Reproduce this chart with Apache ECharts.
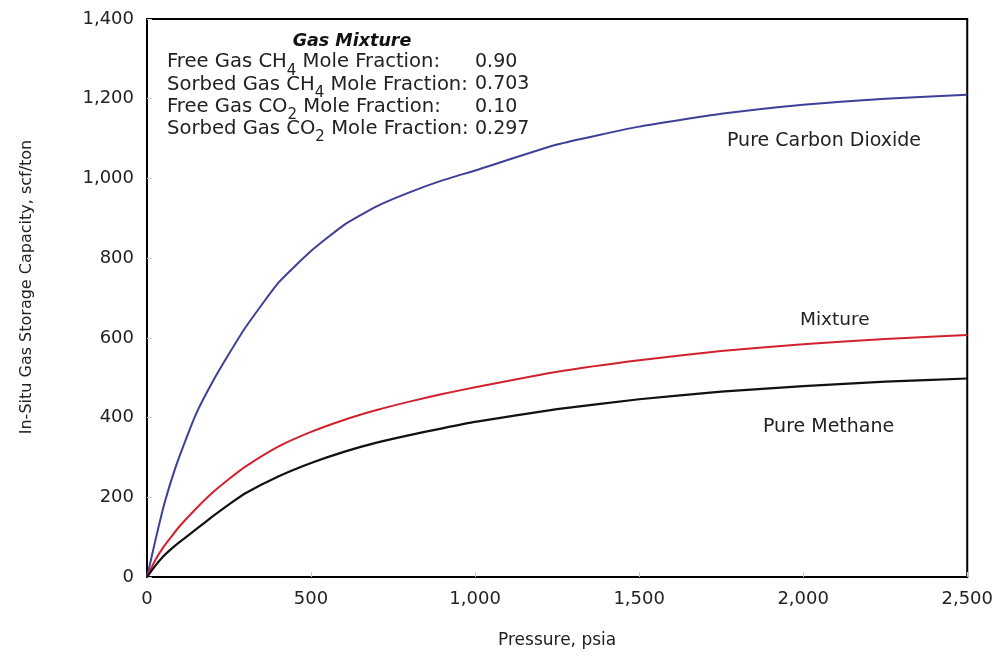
<!DOCTYPE html>
<html>
<head>
<meta charset="utf-8">
<script src="https://cdn.jsdelivr.net/npm/echarts@6/dist/echarts.min.js"></script>
<style>
html, body { margin: 0; padding: 0; background: #fff; }
#chart { width: 996px; height: 656px; }
</style>
</head>
<body>
<div id="chart"></div>
<script>
// pressure (psia) and storage capacity (scf/ton)
var pressure = [0, 25, 50, 75, 100, 150, 200, 250, 300, 400, 500, 600, 700, 800, 900, 1000, 1250, 1500, 1750, 2000, 2250, 2500];
var pureCO2  = [0, 90, 175, 245, 305, 410, 490, 560, 626, 738, 818, 883, 930, 965, 995, 1020, 1085, 1130, 1162, 1185, 1200, 1210];
var mixture  = [0, 42, 75, 102, 128, 172, 212, 246, 277, 327, 364, 394, 419, 440, 459, 476, 515, 544, 567, 584, 597, 607];
var pureCH4  = [0, 28, 52, 71, 88, 120, 152, 182, 210, 252, 286, 314, 337, 356, 373, 389, 421, 446, 465, 479, 490, 498];

var yTicks = [0, 200, 400, 600, 800, 1000, 1200, 1400];
var xTicks = [0, 500, 1000, 1500, 2000, 2500];

var boxLines = [
	'Free Gas CH{s|4} Mole Fraction:',
	'Sorbed Gas CH{s|4} Mole Fraction:',
	'Free Gas CO{s|2} Mole Fraction:',
	'Sorbed Gas CO{s|2} Mole Fraction:'
];
var boxValues = ['0.90', '0.703', '0.10', '0.297'];

function pairs(ys) {
	var out = [];
	for (var i = 0; i < pressure.length; i++) {
		out.push([pressure[i], ys[i]]);
	}
	return out;
}
function comma(v) {
	return v.toString().replace(/\B(?=(\d{3})+(?!\d))/g, ',');
}

var font = '"DejaVu Sans", sans-serif';
var txt = '#222';

var myChart = echarts.init(document.getElementById('chart'));
var options = {
	backgroundColor: '#fff',
	animation: false,
	grid: {
		left: 147, right: 26, top: 19, bottom: 79,
		show: true, borderColor: '#000', borderWidth: 2
	},
	xAxis: {
		type: 'value',
		min: xTicks[0], max: xTicks[xTicks.length - 1], interval: 500,
		name: 'Pressure, psia',
		nameLocation: 'middle', nameGap: 55,
		nameTextStyle: { fontFamily: font, fontSize: 17, color: txt },
		axisLine: { lineStyle: { color: '#000', width: 2 } },
		axisTick: { show: true, inside: true, length: 5, lineStyle: { color: '#ccc' } },
		splitLine: { show: false },
		axisLabel: {
			fontFamily: font, fontSize: 18, color: txt, margin: 13,
			formatter: function(v) { return comma(v); }
		}
	},
	yAxis: {
		type: 'value',
		min: yTicks[0], max: yTicks[yTicks.length - 1], interval: 200,
		name: 'In-Situ Gas Storage Capacity, scf/ton',
		nameLocation: 'middle', nameGap: 112,
		nameTextStyle: { fontFamily: font, fontSize: 16, color: txt, padding: [0, 0, 0, 22] },
		axisLine: { lineStyle: { color: '#000', width: 2 } },
		axisTick: { show: true, inside: true, length: 5, lineStyle: { color: '#ccc' } },
		splitLine: { show: false },
		axisLabel: {
			fontFamily: font, fontSize: 18, color: txt, margin: 13,
			formatter: function(v) { return comma(v); }
		}
	},
	series: [
		{
			name: 'Pure Carbon Dioxide', type: 'line', showSymbol: false, smooth: 0.15,
			data: pairs(pureCO2),
			lineStyle: { color: '#3d3f98', width: 2 }
		},
		{
			name: 'Mixture', type: 'line', showSymbol: false, smooth: 0.15,
			data: pairs(mixture),
			lineStyle: { color: '#d3202f', width: 2 }
		},
		{
			name: 'Pure Methane', type: 'line', showSymbol: false, smooth: 0.15,
			data: pairs(pureCH4),
			lineStyle: { color: '#111', width: 2.2 }
		}
	],
	graphic: [
		{
			type: 'text', x: 352, y: 41,
			style: {
				text: 'Gas Mixture', fill: '#111', align: 'center', verticalAlign: 'middle',
				font: 'italic bold 17.5px "DejaVu Sans", sans-serif'
			}
		},
		{
			type: 'text', x: 167, y: 51,
			style: {
				text: boxLines.join('\n'), fill: txt,
				font: '19.6px "DejaVu Sans", sans-serif', lineHeight: 22.3,
				rich: {
					s: { fontSize: 15, fontFamily: font, padding: [17, 0, 0, 0], verticalAlign: 'middle', fill: txt }
				}
			}
		},
		{
			type: 'text', x: 475, y: 51,
			style: {
				text: boxValues.join('\n'), fill: txt,
				font: '19px "DejaVu Sans", sans-serif', lineHeight: 22.3
			}
		},
		{
			type: 'text', x: 727, y: 141,
			style: { text: 'Pure Carbon Dioxide', fill: txt, verticalAlign: 'middle', font: '19px "DejaVu Sans", sans-serif' }
		},
		{
			type: 'text', x: 800, y: 320,
			style: { text: 'Mixture', fill: txt, verticalAlign: 'middle', font: '18.5px "DejaVu Sans", sans-serif' }
		},
		{
			type: 'text', x: 763, y: 427,
			style: { text: 'Pure Methane', fill: txt, verticalAlign: 'middle', font: '19px "DejaVu Sans", sans-serif' }
		}
	]
};
myChart.setOption(options);
</script>
</body>
</html>
